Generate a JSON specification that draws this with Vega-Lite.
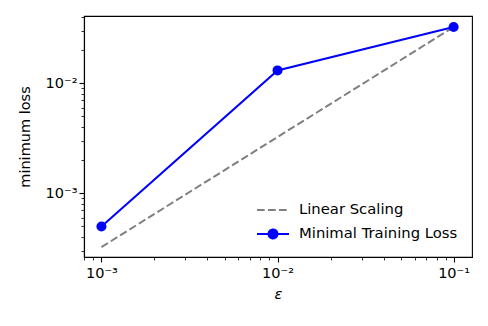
{
  "$schema": "https://vega.github.io/schema/vega-lite/v6.json",
  "width": 388,
  "height": 241,
  "autosize": {"type": "none"},
  "padding": {"left": 84, "top": 16, "right": 16, "bottom": 69},
  "background": "white",
  "data": {
    "values": [
      {"series": "Linear Scaling", "eps": 0.001, "loss": 0.000325},
      {"series": "Linear Scaling", "eps": 0.1, "loss": 0.0325},
      {"series": "Minimal Training Loss", "eps": 0.001, "loss": 0.0005},
      {"series": "Minimal Training Loss", "eps": 0.01, "loss": 0.0131},
      {"series": "Minimal Training Loss", "eps": 0.1, "loss": 0.0325}
    ]
  },
  "encoding": {
    "x": {
      "field": "eps", "type": "quantitative",
      "scale": {"type": "log", "domain": [0.000796, 0.1272], "nice": false},
      "axis": {
        "title": "ε",
        "titleFontStyle": "italic",
        "values": [0.0008, 0.0009, 0.001, 0.002, 0.003, 0.004, 0.005, 0.006, 0.007, 0.008, 0.009, 0.01, 0.02, 0.03, 0.04, 0.05, 0.06, 0.07, 0.08, 0.09, 0.1],
        "labelExpr": "datum.value == 0.001 ? '10⁻³' : datum.value == 0.01 ? '10⁻²' : datum.value == 0.1 ? '10⁻¹' : ''",
        "tickSize": {"condition": {"test": "datum.value == 0.001 || datum.value == 0.01 || datum.value == 0.1", "value": 5}, "value": 3},
        "tickWidth": {"condition": {"test": "datum.value == 0.001 || datum.value == 0.01 || datum.value == 0.1", "value": 1.1}, "value": 0.8},
        "labelPadding": 4,
        "titlePadding": 8
      }
    },
    "y": {
      "field": "loss", "type": "quantitative",
      "scale": {"type": "log", "domain": [0.000264, 0.0409], "nice": false},
      "axis": {
        "title": "minimum loss",
        "values": [0.0003, 0.0004, 0.0005, 0.0006, 0.0007, 0.0008, 0.0009, 0.001, 0.002, 0.003, 0.004, 0.005, 0.006, 0.007, 0.008, 0.009, 0.01, 0.02, 0.03, 0.04],
        "labelExpr": "datum.value == 0.001 ? '10⁻³' : datum.value == 0.01 ? '10⁻²' : ''",
        "tickSize": {"condition": {"test": "datum.value == 0.001 || datum.value == 0.01", "value": 5}, "value": 3},
        "tickWidth": {"condition": {"test": "datum.value == 0.001 || datum.value == 0.01", "value": 1.1}, "value": 0.8},
        "labelPadding": 2,
        "titlePadding": 13
      }
    }
  },
  "layer": [
    {
      "transform": [{"filter": "datum.series == 'Linear Scaling'"}],
      "mark": {"type": "line", "color": "#808080", "strokeWidth": 2, "strokeDash": [7.7, 3.3]}
    },
    {
      "transform": [{"filter": "datum.series == 'Minimal Training Loss'"}],
      "mark": {"type": "line", "color": "#0000ff", "strokeWidth": 2}
    },
    {
      "transform": [{"filter": "datum.series == 'Minimal Training Loss'"}],
      "mark": {"type": "point", "filled": true, "color": "#0000ff", "opacity": 1, "size": 100}
    },
    {
      "mark": {"type": "point", "opacity": 0, "strokeWidth": 2},
      "encoding": {
        "shape": {
          "field": "series", "type": "nominal",
          "scale": {"domain": ["Linear Scaling", "Minimal Training Loss"], "range": ["M-1,0L1,0", "M-1,0L1,0M0.28,0A0.28,0.28,0,1,1,-0.28,0A0.28,0.28,0,1,1,0.28,0Z"]},
          "legend": {"title": null}
        },
        "fill": {
          "field": "series", "type": "nominal",
          "scale": {"domain": ["Linear Scaling", "Minimal Training Loss"], "range": ["#808080", "#0000ff"]},
          "legend": {"title": null}
        },
        "stroke": {
          "field": "series", "type": "nominal",
          "scale": {"domain": ["Linear Scaling", "Minimal Training Loss"], "range": ["#808080", "#0000ff"]},
          "legend": {"title": null}
        },
        "strokeDash": {
          "field": "series", "type": "nominal",
          "scale": {"domain": ["Linear Scaling", "Minimal Training Loss"], "range": [[7.7, 3.3], [1, 0]]},
          "legend": {"title": null}
        }
      }
    }
  ],
  "config": {
    "font": "DejaVu Sans",
    "view": {"stroke": "black", "strokeWidth": 1.1},
    "axis": {
      "grid": false,
      "domainColor": "black",
      "domainWidth": 1.1,
      "tickColor": "black",
      "labelColor": "black",
      "titleColor": "black",
      "labelFont": "DejaVu Sans",
      "titleFont": "DejaVu Sans",
      "labelFontSize": 14.5,
      "titleFontSize": 14.5,
      "titleFontWeight": "normal",
      "labelOverlap": false,
      "labelFlush": false
    },
    "legend": {
      "orient": "bottom-right",
      "offset": 14,
      "padding": 0,
      "symbolSize": 1024,
      "symbolStrokeWidth": 2,
      "symbolOpacity": 1,
      "labelFont": "DejaVu Sans",
      "labelFontSize": 14.8,
      "labelColor": "black",
      "labelOffset": 9,
      "rowPadding": -5,
      "labelLimit": 300
    }
  }
}
